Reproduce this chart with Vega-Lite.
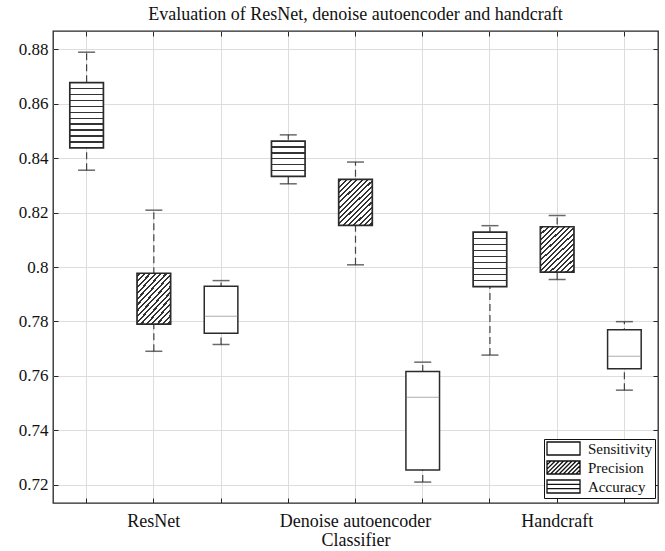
{
  "$schema": "https://vega.github.io/schema/vega-lite/v6.json",
  "width": 605,
  "height": 472,
  "autosize": {"type": "none"},
  "padding": {"left": 53, "top": 31, "right": 7, "bottom": 48},
  "background": "white",
  "title": {
    "text": "Evaluation of ResNet, denoise autoencoder and handcraft",
    "font": "Liberation Serif",
    "fontSize": 18,
    "fontWeight": "normal",
    "color": "#111111",
    "anchor": "middle",
    "offset": 7
  },
  "data": {
    "values": [
      {"classifier": "ResNet", "metric": "Accuracy", "min": 0.8356, "q1": 0.8438, "median": 0.856, "q3": 0.8678, "max": 0.879},
      {"classifier": "ResNet", "metric": "Precision", "min": 0.769, "q1": 0.779, "median": 0.785, "q3": 0.7977, "max": 0.8209},
      {"classifier": "ResNet", "metric": "Sensitivity", "min": 0.7715, "q1": 0.7756, "median": 0.7819, "q3": 0.7929, "max": 0.795},
      {"classifier": "Denoise autoencoder", "metric": "Accuracy", "min": 0.8306, "q1": 0.8333, "median": 0.839, "q3": 0.8463, "max": 0.8486},
      {"classifier": "Denoise autoencoder", "metric": "Precision", "min": 0.8008, "q1": 0.8153, "median": 0.816, "q3": 0.8322, "max": 0.8386},
      {"classifier": "Denoise autoencoder", "metric": "Sensitivity", "min": 0.7209, "q1": 0.7253, "median": 0.7521, "q3": 0.7616, "max": 0.765},
      {"classifier": "Handcraft", "metric": "Accuracy", "min": 0.7676, "q1": 0.7928, "median": 0.7955, "q3": 0.8128, "max": 0.8152},
      {"classifier": "Handcraft", "metric": "Precision", "min": 0.7954, "q1": 0.7981, "median": 0.8, "q3": 0.8148, "max": 0.8189},
      {"classifier": "Handcraft", "metric": "Sensitivity", "min": 0.7547, "q1": 0.7626, "median": 0.7672, "q3": 0.7769, "max": 0.7799}
    ]
  },
  "transform": [{"calculate": "datum.classifier + ' ' + datum.metric", "as": "key"}],
  "resolve": {"axis": {"x": "independent", "y": "independent"}},
  "layer": [
    {
      "mark": {"type": "rule", "color": "#444444", "strokeWidth": 1.2, "strokeDash": [7, 4]},
      "encoding": {
        "x": {
          "field": "key",
          "type": "nominal",
          "scale": {
            "type": "band",
            "domain": ["ResNet Accuracy", "ResNet Precision", "ResNet Sensitivity", "Denoise autoencoder Accuracy", "Denoise autoencoder Precision", "Denoise autoencoder Sensitivity", "Handcraft Accuracy", "Handcraft Precision", "Handcraft Sensitivity"],
            "paddingInner": 0.5,
            "paddingOuter": 0.25
          },
          "axis": {
            "title": "Classifier",
            "labelAngle": 0,
            "labelExpr": "datum.value == 'ResNet Precision' ? 'ResNet' : datum.value == 'Denoise autoencoder Precision' ? 'Denoise autoencoder' : datum.value == 'Handcraft Precision' ? 'Handcraft' : ''",
            "bandPosition": 0.5,
            "grid": true,
            "tickSize": -5,
            "labelPadding": 14,
            "labelFontSize": 18,
            "titleFontSize": 18,
            "titlePadding": 1
          }
        },
        "y": {"field": "min", "type": "quantitative", "scale": {"domain": [0.7132, 0.8868], "nice": false, "zero": false},
          "axis": {"title": null, "values": [0.72, 0.74, 0.76, 0.78, 0.8, 0.82, 0.84, 0.86, 0.88], "format": "~g", "grid": true, "tickSize": -5, "labelPadding": 10, "labelFontSize": 17}},
        "y2": {"field": "max"}
      }
    },
    {
      "mark": {"type": "tick", "color": "#2b2b2b", "size": 17, "thickness": 1.5},
      "encoding": {
        "x": {"field": "key", "type": "nominal", "axis": null},
        "y": {"field": "max", "type": "quantitative", "axis": null}
      }
    },
    {
      "mark": {"type": "tick", "color": "#2b2b2b", "size": 17, "thickness": 1.5},
      "encoding": {
        "x": {"field": "key", "type": "nominal", "axis": null},
        "y": {"field": "min", "type": "quantitative", "axis": null}
      }
    },
    {
      "transform": [{"filter": "datum.metric == 'Sensitivity'"}],
      "mark": {"type": "bar", "fill": "white", "stroke": "#2b2b2b", "strokeWidth": 1.5},
      "encoding": {
        "x": {"field": "key", "type": "nominal", "axis": null},
        "y": {"field": "q1", "type": "quantitative", "axis": null},
        "y2": {"field": "q3"}
      }
    },
    {
      "transform": [{"filter": "datum.metric == 'Precision'"}],
      "mark": {"type": "bar", "stroke": "#2b2b2b", "strokeWidth": 1.7,
        "fill": {"gradient": "linear", "x1": 0, "y1": 0, "x2": 0.809, "y2": 1.135, "stops": [
          {"offset": 0, "color": "white"},
          {"offset": 0.0203, "color": "white"}, {"offset": 0.0203, "color": "#333333"}, {"offset": 0.0463, "color": "#333333"}, {"offset": 0.0463, "color": "white"},
          {"offset": 0.087, "color": "white"}, {"offset": 0.087, "color": "#333333"}, {"offset": 0.113, "color": "#333333"}, {"offset": 0.113, "color": "white"},
          {"offset": 0.1537, "color": "white"}, {"offset": 0.1537, "color": "#333333"}, {"offset": 0.1797, "color": "#333333"}, {"offset": 0.1797, "color": "white"},
          {"offset": 0.2203, "color": "white"}, {"offset": 0.2203, "color": "#333333"}, {"offset": 0.2463, "color": "#333333"}, {"offset": 0.2463, "color": "white"},
          {"offset": 0.287, "color": "white"}, {"offset": 0.287, "color": "#333333"}, {"offset": 0.313, "color": "#333333"}, {"offset": 0.313, "color": "white"},
          {"offset": 0.3537, "color": "white"}, {"offset": 0.3537, "color": "#333333"}, {"offset": 0.3797, "color": "#333333"}, {"offset": 0.3797, "color": "white"},
          {"offset": 0.4203, "color": "white"}, {"offset": 0.4203, "color": "#333333"}, {"offset": 0.4463, "color": "#333333"}, {"offset": 0.4463, "color": "white"},
          {"offset": 0.487, "color": "white"}, {"offset": 0.487, "color": "#333333"}, {"offset": 0.513, "color": "#333333"}, {"offset": 0.513, "color": "white"},
          {"offset": 0.5537, "color": "white"}, {"offset": 0.5537, "color": "#333333"}, {"offset": 0.5797, "color": "#333333"}, {"offset": 0.5797, "color": "white"},
          {"offset": 0.6203, "color": "white"}, {"offset": 0.6203, "color": "#333333"}, {"offset": 0.6463, "color": "#333333"}, {"offset": 0.6463, "color": "white"},
          {"offset": 0.687, "color": "white"}, {"offset": 0.687, "color": "#333333"}, {"offset": 0.713, "color": "#333333"}, {"offset": 0.713, "color": "white"},
          {"offset": 0.7537, "color": "white"}, {"offset": 0.7537, "color": "#333333"}, {"offset": 0.7797, "color": "#333333"}, {"offset": 0.7797, "color": "white"},
          {"offset": 0.8203, "color": "white"}, {"offset": 0.8203, "color": "#333333"}, {"offset": 0.8463, "color": "#333333"}, {"offset": 0.8463, "color": "white"},
          {"offset": 0.887, "color": "white"}, {"offset": 0.887, "color": "#333333"}, {"offset": 0.913, "color": "#333333"}, {"offset": 0.913, "color": "white"},
          {"offset": 0.9537, "color": "white"}, {"offset": 0.9537, "color": "#333333"}, {"offset": 0.9797, "color": "#333333"}, {"offset": 0.9797, "color": "white"},
          {"offset": 1, "color": "white"}
        ]}},
      "encoding": {
        "x": {"field": "key", "type": "nominal", "axis": null},
        "y": {"field": "q1", "type": "quantitative", "axis": null},
        "y2": {"field": "q3"}
      }
    },
    {
      "transform": [{"filter": "datum.metric == 'Accuracy' && datum.classifier == 'ResNet'"}],
      "mark": {"type": "bar", "stroke": "#2b2b2b", "strokeWidth": 1.7,
        "fill": {"gradient": "linear", "x1": 0, "y1": 0, "x2": 0, "y2": 1, "stops": [
          {"offset": 0, "color": "white"},
          {"offset": 0.0799, "color": "white"}, {"offset": 0.0799, "color": "#333333"}, {"offset": 0.1019, "color": "#333333"}, {"offset": 0.1019, "color": "white"},
          {"offset": 0.1708, "color": "white"}, {"offset": 0.1708, "color": "#333333"}, {"offset": 0.1928, "color": "#333333"}, {"offset": 0.1928, "color": "white"},
          {"offset": 0.2617, "color": "white"}, {"offset": 0.2617, "color": "#333333"}, {"offset": 0.2837, "color": "#333333"}, {"offset": 0.2837, "color": "white"},
          {"offset": 0.3526, "color": "white"}, {"offset": 0.3526, "color": "#333333"}, {"offset": 0.3746, "color": "#333333"}, {"offset": 0.3746, "color": "white"},
          {"offset": 0.4435, "color": "white"}, {"offset": 0.4435, "color": "#333333"}, {"offset": 0.4655, "color": "#333333"}, {"offset": 0.4655, "color": "white"},
          {"offset": 0.5345, "color": "white"}, {"offset": 0.5345, "color": "#333333"}, {"offset": 0.5565, "color": "#333333"}, {"offset": 0.5565, "color": "white"},
          {"offset": 0.6254, "color": "white"}, {"offset": 0.6254, "color": "#333333"}, {"offset": 0.6474, "color": "#333333"}, {"offset": 0.6474, "color": "white"},
          {"offset": 0.7163, "color": "white"}, {"offset": 0.7163, "color": "#333333"}, {"offset": 0.7383, "color": "#333333"}, {"offset": 0.7383, "color": "white"},
          {"offset": 0.8072, "color": "white"}, {"offset": 0.8072, "color": "#333333"}, {"offset": 0.8292, "color": "#333333"}, {"offset": 0.8292, "color": "white"},
          {"offset": 0.8981, "color": "white"}, {"offset": 0.8981, "color": "#333333"}, {"offset": 0.9201, "color": "#333333"}, {"offset": 0.9201, "color": "white"},
          {"offset": 1, "color": "white"}
        ]}},
      "encoding": {
        "x": {"field": "key", "type": "nominal", "axis": null},
        "y": {"field": "q1", "type": "quantitative", "axis": null},
        "y2": {"field": "q3"}
      }
    },
    {
      "transform": [{"filter": "datum.metric == 'Accuracy' && datum.classifier == 'Denoise autoencoder'"}],
      "mark": {"type": "bar", "stroke": "#2b2b2b", "strokeWidth": 1.7,
        "fill": {"gradient": "linear", "x1": 0, "y1": 0, "x2": 0, "y2": 1, "stops": [
          {"offset": 0, "color": "white"},
          {"offset": 0.1467, "color": "white"}, {"offset": 0.1467, "color": "#333333"}, {"offset": 0.1867, "color": "#333333"}, {"offset": 0.1867, "color": "white"},
          {"offset": 0.3133, "color": "white"}, {"offset": 0.3133, "color": "#333333"}, {"offset": 0.3533, "color": "#333333"}, {"offset": 0.3533, "color": "white"},
          {"offset": 0.48, "color": "white"}, {"offset": 0.48, "color": "#333333"}, {"offset": 0.52, "color": "#333333"}, {"offset": 0.52, "color": "white"},
          {"offset": 0.6467, "color": "white"}, {"offset": 0.6467, "color": "#333333"}, {"offset": 0.6867, "color": "#333333"}, {"offset": 0.6867, "color": "white"},
          {"offset": 0.8133, "color": "white"}, {"offset": 0.8133, "color": "#333333"}, {"offset": 0.8533, "color": "#333333"}, {"offset": 0.8533, "color": "white"},
          {"offset": 1, "color": "white"}
        ]}},
      "encoding": {
        "x": {"field": "key", "type": "nominal", "axis": null},
        "y": {"field": "q1", "type": "quantitative", "axis": null},
        "y2": {"field": "q3"}
      }
    },
    {
      "transform": [{"filter": "datum.metric == 'Accuracy' && datum.classifier == 'Handcraft'"}],
      "mark": {"type": "bar", "stroke": "#2b2b2b", "strokeWidth": 1.7,
        "fill": {"gradient": "linear", "x1": 0, "y1": 0, "x2": 0, "y2": 1, "stops": [
          {"offset": 0, "color": "white"},
          {"offset": 0.0981, "color": "white"}, {"offset": 0.0981, "color": "#333333"}, {"offset": 0.1241, "color": "#333333"}, {"offset": 0.1241, "color": "white"},
          {"offset": 0.2092, "color": "white"}, {"offset": 0.2092, "color": "#333333"}, {"offset": 0.2352, "color": "#333333"}, {"offset": 0.2352, "color": "white"},
          {"offset": 0.3203, "color": "white"}, {"offset": 0.3203, "color": "#333333"}, {"offset": 0.3463, "color": "#333333"}, {"offset": 0.3463, "color": "white"},
          {"offset": 0.4314, "color": "white"}, {"offset": 0.4314, "color": "#333333"}, {"offset": 0.4574, "color": "#333333"}, {"offset": 0.4574, "color": "white"},
          {"offset": 0.5426, "color": "white"}, {"offset": 0.5426, "color": "#333333"}, {"offset": 0.5686, "color": "#333333"}, {"offset": 0.5686, "color": "white"},
          {"offset": 0.6537, "color": "white"}, {"offset": 0.6537, "color": "#333333"}, {"offset": 0.6797, "color": "#333333"}, {"offset": 0.6797, "color": "white"},
          {"offset": 0.7648, "color": "white"}, {"offset": 0.7648, "color": "#333333"}, {"offset": 0.7908, "color": "#333333"}, {"offset": 0.7908, "color": "white"},
          {"offset": 0.8759, "color": "white"}, {"offset": 0.8759, "color": "#333333"}, {"offset": 0.9019, "color": "#333333"}, {"offset": 0.9019, "color": "white"},
          {"offset": 1, "color": "white"}
        ]}},
      "encoding": {
        "x": {"field": "key", "type": "nominal", "axis": null},
        "y": {"field": "q1", "type": "quantitative", "axis": null},
        "y2": {"field": "q3"}
      }
    },
    {
      "transform": [{"filter": "datum.metric == 'Sensitivity'"}],
      "mark": {"type": "tick", "color": "#8a8a8a", "size": 33, "thickness": 1},
      "encoding": {
        "x": {"field": "key", "type": "nominal", "axis": null},
        "y": {"field": "median", "type": "quantitative", "axis": null}
      }
    },
    {
      "mark": {"type": "point", "opacity": 0, "color": "#111111", "filled": false},
      "encoding": {
        "x": {"field": "key", "type": "nominal",
          "axis": {"orient": "top", "title": null, "labels": false, "grid": false, "tickSize": -5, "bandPosition": 0.5, "domain": false}},
        "y": {"field": "median", "type": "quantitative",
          "axis": {"orient": "right", "title": null, "labels": false, "grid": false, "tickSize": -5, "values": [0.72, 0.74, 0.76, 0.78, 0.8, 0.82, 0.84, 0.86, 0.88], "domain": false}},
        "shape": {
          "field": "metric",
          "type": "nominal",
          "scale": {
            "domain": ["Sensitivity", "Precision", "Accuracy"],
            "range": [
              "M-1,-1H4.08V1H-1Z",
              "M-1,-1H4.08V1H-1Z M-1,-0.4L-0.4,-1 M-1,0.25L0.25,-1 M-1,0.9L0.9,-1 M-0.45,1L1.55,-1 M0.2,1L2.2,-1 M0.85,1L2.85,-1 M1.5,1L3.5,-1 M2.15,1L4.08,-0.93 M2.8,1L4.08,-0.28 M3.45,1L4.08,0.37",
              "M-1,-1H4.08V1H-1Z M-1,-0.33H4.08 M-1,0.33H4.08"
            ]
          },
          "legend": {
            "title": null,
            "orient": "none",
            "legendX": 491,
            "legendY": 408,
            "padding": 2,
            "fillColor": "white",
            "strokeColor": "#111111",
            "labelFont": "Liberation Serif",
            "labelFontSize": 15,
            "labelColor": "#111111",
            "labelOffset": 27,
            "rowPadding": 0,
            "symbolSize": 169,
            "symbolStrokeWidth": 1.3,
            "symbolStrokeColor": "#111111",
            "symbolFillColor": "white",
            "symbolOpacity": 1
          }
        }
      }
    }
  ],
  "config": {
    "view": {"stroke": "#262626", "strokeWidth": 1.3},
    "axis": {
      "labelFont": "Liberation Serif",
      "titleFont": "Liberation Serif",
      "labelColor": "#111111",
      "titleColor": "#111111",
      "titleFontWeight": "normal",
      "gridColor": "#dddddd",
      "gridWidth": 1,
      "tickColor": "#262626",
      "domain": false
    }
  }
}
